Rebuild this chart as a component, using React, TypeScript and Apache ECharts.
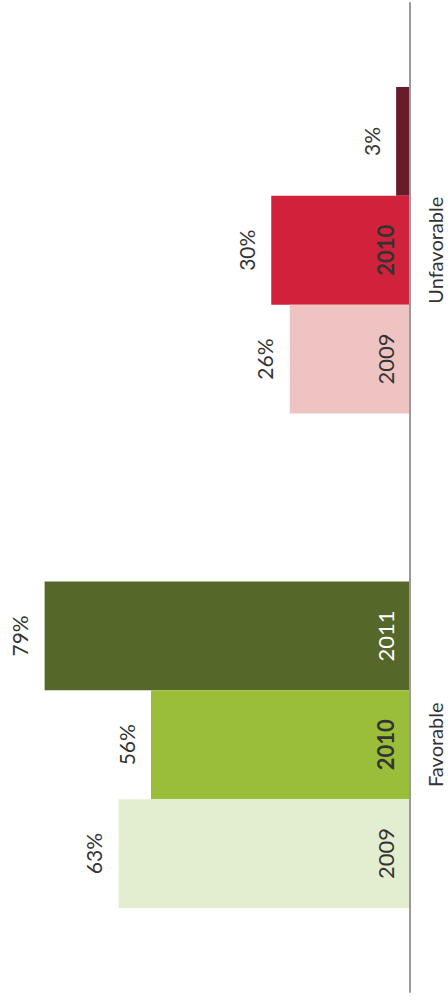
import React, { useEffect, useRef } from "react";
import * as echarts from "echarts";

const categories = ["Favorable", "Unfavorable"];
const years = ["2009", "2010", "2011"];
const values2009 = [63, 26];
const values2010 = [56, 30];
const values2011 = [79, 3];
const colors2009 = ["#e3eed0", "#f0c3c3"];
const colors2010 = ["#9abe3a", "#d0223a"];
const colors2011 = ["#56672a", "#6a1b2b"];
const yearLabelColors = [
  ["#333333", "#333333"],
  ["#333333", "#333333"],
  ["#ffffff", "#ffffff"],
];
const yearLabelWeights = [
  ["normal", "normal"],
  ["bold", "bold"],
  ["normal", "normal"],
];
const showYearLabel = [
  [true, true],
  [true, true],
  [true, false],
];

export default function App() {
  const ref = useRef<HTMLDivElement>(null);
  useEffect(() => {
    if (!ref.current) return;
    const chart = echarts.init(ref.current, null, { renderer: "svg" });
    const allValues = [values2009, values2010, values2011];
    const allColors = [colors2009, colors2010, colors2011];
    const font = "Lato, 'Open Sans', sans-serif";
    const order = [2, 1, 0];

    const barSeries = order.map((si) => ({
      name: years[si],
      type: "bar",
      yAxisIndex: 0,
      barGap: "0%",
      barCategoryGap: "34%",
      data: allValues[si].map((v, ci) => ({
        value: v,
        itemStyle: { color: allColors[si][ci] },
      })),
      label: {
        show: true,
        position: "left",
        distance: 25,
        rotate: 90,
        align: "center",
        verticalAlign: "middle",
        fontSize: 21,
        fontFamily: font,
        color: "#333333",
        formatter: (p: any) => p.value + "%",
      },
      z: 2,
    }));

    const yearSeries = order.map((si) => ({
      name: years[si] + " label",
      type: "bar",
      yAxisIndex: 1,
      barGap: "0%",
      barCategoryGap: "34%",
      silent: true,
      data: allValues[si].map((v, ci) => ({
        value: v,
        itemStyle: { color: "rgba(0,0,0,0)" },
        label: {
          show: showYearLabel[si][ci],
          color: yearLabelColors[si][ci],
          fontWeight: yearLabelWeights[si][ci],
        },
      })),
      label: {
        position: "insideRight",
        distance: 25,
        rotate: 90,
        align: "center",
        verticalAlign: "middle",
        fontSize: 22,
        fontFamily: font,
        formatter: years[si],
      },
      z: 3,
    }));

    chart.setOption({
      animation: false,
      grid: { left: 40, right: 38, top: 3, bottom: 8 },
      xAxis: {
        type: "value",
        inverse: true,
        min: 0,
        max: 80,
        show: false,
      },
      yAxis: [
        {
          type: "category",
          data: categories,
          position: "right",
          axisLine: { show: true, lineStyle: { color: "#9a9a9a", width: 2 } },
          axisTick: { show: false },
          axisLabel: {
            rotate: 90,
            margin: 15,
            fontSize: 20,
            lineHeight: 20,
            color: "#333333",
            fontFamily: font,
          },
          z: 5,
        },
        {
          type: "category",
          data: categories,
          position: "right",
          show: false,
        },
      ],
      series: [...barSeries, ...yearSeries],
    });
    return () => chart.dispose();
  }, []);
  return (
    <div
      ref={ref}
      style={{ position: "fixed", left: 0, top: 0, width: 448, height: 1000, background: "#fff" }}
    />
  );
}
